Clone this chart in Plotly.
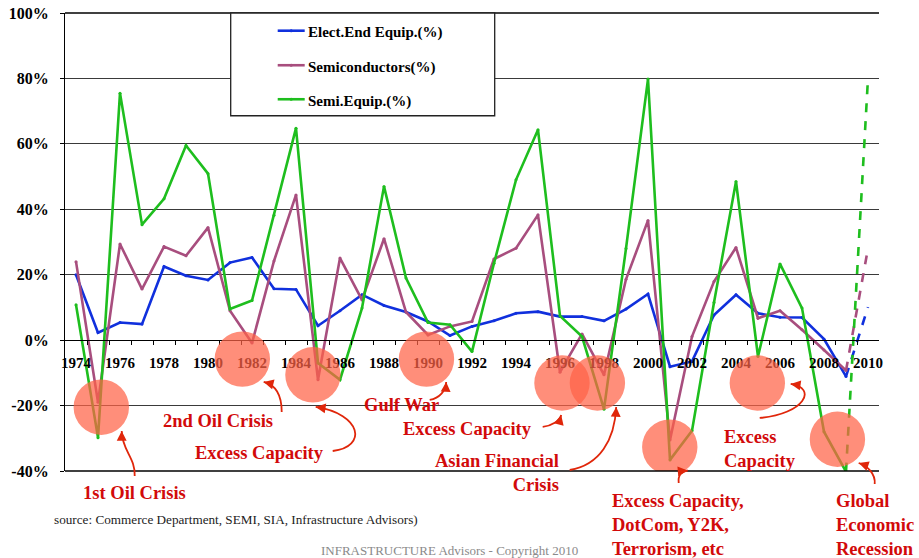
import plotly.graph_objects as go

# ---------------- data ----------------
years = list(range(1974, 2011))
elect_end_equip = [20.0, 2.3, 5.4, 4.9, 22.5, 19.7, 18.4, 23.7, 25.3, 15.7, 15.5, 4.4,
                   9.0, 13.9, 10.6, 8.6, 5.7, 1.4, 4.2, 5.9, 8.2, 8.7, 7.2, 7.2, 5.9,
                   9.5, 14.1, -8.1, -6.5, 7.7, 13.9, 8.2, 7.0, 6.9, 0.3, -11.1, 10.1]
semiconductors = [24.0, -19.0, 29.4, 15.6, 28.6, 25.8, 34.4, 9.0, -0.9, 24.2, 44.4, -12.1,
                  25.1, 12.3, 31.0, 8.6, 1.6, 4.2, 5.7, 24.8, 28.1, 38.3, -9.8, 1.9, -10.6,
                  18.6, 36.6, -30.5, 1.1, 17.9, 28.3, 6.7, 9.0, 3.2, -3.0, -9.3, 28.1]
semi_equip = [10.8, -29.8, 75.5, 35.3, 43.2, 59.5, 50.9, 9.5, 12.1, 38.2, 64.8, -7.0,
              -12.1, 9.8, 47.0, 19.0, 5.4, 4.7, -3.5, 23.5, 49.0, 64.3, 7.4, 1.1, -21.1,
              28.0, 79.8, -36.6, -27.7, 11.5, 48.5, -5.0, 23.3, 9.8, -28.0, -40.2, 80.1]

series_names = ["Elect.End Equip.(%)", "Semiconductors(%)", "Semi.Equip.(%)"]
series_colors = ["#1030DD", "#A84E7E", "#1EBE1E"]
series_values = [elect_end_equip, semiconductors, semi_equip]

y_ticks = [-40, -20, 0, 20, 40, 60, 80, 100]
y_tick_text = ["-40%", "-20%", "0%", "20%", "40%", "60%", "80%", "100%"]
x_ticks = list(range(1974, 2011, 2))
x_tick_text = [str(y) for y in x_ticks]

# highlighted events: (year position, value position)
event_circles = [(1975.15, -20.5), (1981.56, -5.8), (1984.77, -10.6), (1989.93, -5.8),
                 (1996.09, -13.1), (1997.70, -13.1), (2000.99, -32.7), (2004.97, -13.1),
                 (2008.61, -30.3)]

# ---------------- layout geometry ----------------
W, H = 919, 558
L, R, T, B = 65.3, 879.3, 13.3, 471.0   # plot area in pixels
PW, PH = R - L, B - T


def px(x):
    return (x - L) / PW


def py(y):
    return (B - y) / PH


fig = go.Figure()

for name, color, vals in zip(series_names, series_colors, series_values):
    fig.add_trace(go.Scatter(
        x=years[:-1], y=vals[:-1], mode="lines+markers", name=name,
        line=dict(color=color, width=2.6), marker=dict(size=3, color=color),
        showlegend=False))
    fig.add_trace(go.Scatter(
        x=years[-2:], y=vals[-2:], mode="lines", name=name,
        line=dict(color=color, width=2.6, dash="dash"), showlegend=False))

shapes = []
annotations = []

# circles
for cx, cy in event_circles:
    shapes.append(dict(type="circle", xref="x", yref="y", xsizemode="pixel",
                       ysizemode="pixel", xanchor=cx, yanchor=cy,
                       x0=-27.7, x1=27.7, y0=-27.7, y1=27.7,
                       fillcolor="rgba(255,99,71,0.72)", line=dict(width=0),
                       layer="above"))

# top and bottom frame lines
shapes.append(dict(type="line", xref="paper", yref="paper", x0=0, x1=1, y0=1, y1=1,
                   line=dict(color="black", width=1.3)))
shapes.append(dict(type="line", xref="paper", yref="paper", x0=0, x1=1, y0=0, y1=0,
                   line=dict(color="black", width=1.5)))

# legend (manual)
lg_left, lg_right, lg_top, lg_bot = 231, 495, 13.3, 116
shapes.append(dict(type="rect", xref="paper", yref="paper",
                   x0=px(lg_left), x1=px(lg_right), y0=py(lg_bot), y1=py(lg_top),
                   fillcolor="white", line=dict(color="#222", width=1.3), layer="above"))
legend_rows = [31, 65.5, 99.5]
for name, color, yy in zip(series_names, series_colors, legend_rows):
    shapes.append(dict(type="line", xref="paper", yref="paper",
                       x0=px(278), x1=px(305), y0=py(yy), y1=py(yy),
                       line=dict(color=color, width=2.6), layer="above"))
    shapes.append(dict(type="circle", xref="paper", yref="paper",
                       x0=px(290), x1=px(293), y0=py(yy + 1.5), y1=py(yy - 1.5),
                       fillcolor=color, line=dict(width=0), layer="above"))
    annotations.append(dict(xref="paper", yref="paper", x=px(306), y=py(yy + 2),
                            xanchor="left", yanchor="middle", showarrow=False,
                            text="<b>" + name + "</b>",
                            font=dict(family="Liberation Serif", size=15, color="black")))

# red labels
RED = "#D20A0A"
labels = [
    ("1st Oil Crisis", 134.5, 493, "center", "center"),
    ("2nd Oil Crisis", 218.5, 420.7, "center", "center"),
    ("Excess Capacity", 259.8, 453.3, "center", "center"),
    ("Gulf War", 402, 405, "center", "center"),
    ("Excess Capacity", 467.5, 429.3, "center", "center"),
    ("Asian Financial<br>Crisis", 561, 472.5, "right", "right"),
    ("Excess Capacity,<br>DotCom, Y2K,<br>Terrorism, etc", 610.5, 524.5, "left", "left"),
    ("Excess<br>Capacity", 722, 448.7, "left", "left"),
    ("Global<br>Economic<br>Recession", 834.5, 524.5, "left", "left"),
]
for text, x, y, xa, al in labels:
    annotations.append(dict(xref="paper", yref="paper", x=px(x), y=py(y),
                            xanchor=xa, yanchor="middle", align=al, showarrow=False,
                            text="<b>" + text + "</b>",
                            font=dict(family="Liberation Serif", size=18.5, color=RED)))

# curved arrows: start, control1, control2, end (pixels)
ARROW = "#E0260A"
arrows = [
    ((135, 476), (136, 458), (122, 450), (122, 431)),
    ((282, 412), (282, 395), (276, 385), (264, 382)),
    ((333, 451), (368, 447), (362, 414), (316, 407)),
    ((430, 400), (440, 398), (446, 391), (446.5, 382)),
    ((543, 427), (552, 426), (560, 421), (561.5, 415)),
    ((570, 470), (600, 465), (615, 440), (616.5, 407)),
    ((679, 483), (678, 475), (682, 471), (688, 470.5)),
    ((760, 418), (805, 414), (818, 388), (791, 384)),
    ((875, 484), (876, 474), (868, 466), (859, 463)),
]
for (s, c1, c2, e) in arrows:
    path = "M {:.5f},{:.5f} C {:.5f},{:.5f} {:.5f},{:.5f} {:.5f},{:.5f}".format(
        px(s[0]), py(s[1]), px(c1[0]), py(c1[1]), px(c2[0]), py(c2[1]), px(e[0]), py(e[1]))
    shapes.append(dict(type="path", xref="paper", yref="paper", path=path,
                       line=dict(color=ARROW, width=1.8), layer="above"))
    dx, dy = e[0] - c2[0], e[1] - c2[1]
    n = (dx * dx + dy * dy) ** 0.5
    annotations.append(dict(xref="paper", yref="paper", x=px(e[0]), y=py(e[1]),
                            ax=-dx / n * 7, ay=-dy / n * 7, axref="pixel", ayref="pixel",
                            text="", showarrow=True, arrowhead=2, arrowsize=1.1,
                            arrowwidth=1.8, arrowcolor=ARROW))

# source / footer
annotations.append(dict(xref="paper", yref="paper", x=px(52), y=py(519.5),
                        xanchor="left", yanchor="middle", showarrow=False,
                        text="source: Commerce Department, SEMI, SIA, Infrastructure Advisors)",
                        font=dict(family="Liberation Serif", size=13.2, color="#222")))
annotations.append(dict(xref="paper", yref="paper", x=px(450), y=py(550),
                        xanchor="center", yanchor="middle", showarrow=False,
                        text="INFRASTRUCTURE Advisors - Copyright 2010",
                        font=dict(family="Liberation Serif", size=13, color="#8a8a8a")))

fig.update_layout(
    width=W, height=H,
    margin=dict(l=L, r=W - R, t=T, b=H - B, pad=0, autoexpand=False),
    paper_bgcolor="white", plot_bgcolor="white",
    showlegend=False, hovermode=False,
    shapes=shapes, annotations=annotations,
    xaxis=dict(
        range=[1973.5, 2010.5], anchor="free", position=40 / 140, automargin=False,
        tickmode="array", tickvals=x_ticks, ticktext=x_tick_text,
        ticks="outside", ticklen=9, tickcolor="rgba(0,0,0,0)",
        tickfont=dict(family="Liberation Serif", size=15, color="black", weight="bold"),
        showgrid=False, zeroline=False, showline=True, linecolor="black", linewidth=1.3,
        minor=dict(tickmode="array", tickvals=[y + 0.5 for y in years[:-1]],
                   ticks="outside", ticklen=4, tickcolor="black", tickwidth=1, showgrid=False),
    ),
    yaxis=dict(
        range=[-40, 100], tickmode="array", tickvals=y_ticks, ticktext=y_tick_text,
        automargin=False, ticklabeloverflow="allow",
        ticks="outside", ticklen=4, tickcolor="black", ticklabelstandoff=8,
        tickfont=dict(family="Liberation Serif", size=16, color="black", weight="bold"),
        showgrid=True, gridcolor="#3a3a3a", gridwidth=1,
        zeroline=False, showline=True, linecolor="black", linewidth=1.3,
    ),
)

fig.write_html(
    "out.html",
    config={"displayModeBar": False},
    post_script="document.body.style.margin='0';"
                "document.documentElement.style.overflow='hidden';"
                "document.body.style.overflow='hidden';",
)
